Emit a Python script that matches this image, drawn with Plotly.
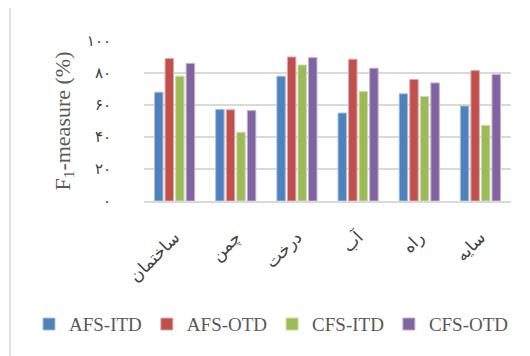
import plotly.graph_objects as go

categories = ["ساختمان", "چمن", "درخت", "آب", "راه", "سایه"]
afs_itd = [68, 57.3, 78, 55, 67, 59.4]
afs_otd = [89, 57, 90, 88.6, 76, 81.5]
cfs_itd = [78, 43, 85, 68.4, 65.4, 47.3]
cfs_otd = [86, 56.5, 89.6, 83, 73.8, 79]
series_names = ["AFS-ITD", "AFS-OTD", "CFS-ITD", "CFS-OTD"]
colors = ["#4F81BD", "#C0504D", "#9BBB59", "#8064A2"]
edge_colors = ["#A7C0DE", "#E0A8A6", "#CDDDAC", "#BFB1D0"]
tick_vals = [0, 20, 40, 60, 80, 100]
tick_text = ["۰", "۲۰", "۴۰", "۶۰", "۸۰", "۱۰۰"]

fig = go.Figure()
for name, vals, c, ec in zip(series_names, [afs_itd, afs_otd, cfs_itd, cfs_otd], colors, edge_colors):
    fig.add_trace(go.Bar(x=categories, y=vals, name=name,
                         marker=dict(color=c, line=dict(color=ec, width=1))))

# page has an 8px body margin, so the figure is offset by 8px
W, H = 522, 348
L, R, T, B = 136, 19, 33, 155
pw = W - L - R
ph = H - T - B
fig.update_layout(
    width=W, height=H,
    margin=dict(l=L, r=R, t=T, b=B, autoexpand=False),
    paper_bgcolor="white", plot_bgcolor="white",
    barmode="group", bargap=0.31, bargroupgap=0.2,
    font=dict(family="Liberation Serif, DejaVu Sans, serif", color="#595959"),
    showlegend=True,
    legend=dict(orientation="h", x=(21 - L) / pw, xanchor="left", y=-0.77, yanchor="middle",
                font=dict(size=19, family="Liberation Serif, serif", color="#595959"),
                itemwidth=30, tracegroupgap=0),
    xaxis=dict(tickangle=-45, tickfont=dict(size=17, family="DejaVu Sans, serif", color="#404040"),
               showline=True, linecolor="#D9D9D9", linewidth=1.5, ticks="",
               ticklabelstandoff=18, automargin=False),
    yaxis=dict(range=[0, 100], tickvals=tick_vals, ticktext=tick_text,
               tickfont=dict(size=15, family="DejaVu Sans, serif", color="#404040"),
               showgrid=True, gridcolor="#D9D9D9", gridwidth=1.5, zeroline=False,
               ticks="", ticklabelstandoff=32, automargin=False,
               title=dict(text="F<sub>1</sub>-measure (%)", standoff=10,
                          font=dict(size=22, family="Liberation Serif, serif", color="#595959"))),
)
fig.add_shape(type="line", xref="paper", yref="paper",
              x0=(2 - L) / pw, x1=(2 - L) / pw, y0=-B / ph, y1=(H - T) / ph,
              line=dict(color="#D9D9D9", width=1.5))
fig.write_html("out.html")
